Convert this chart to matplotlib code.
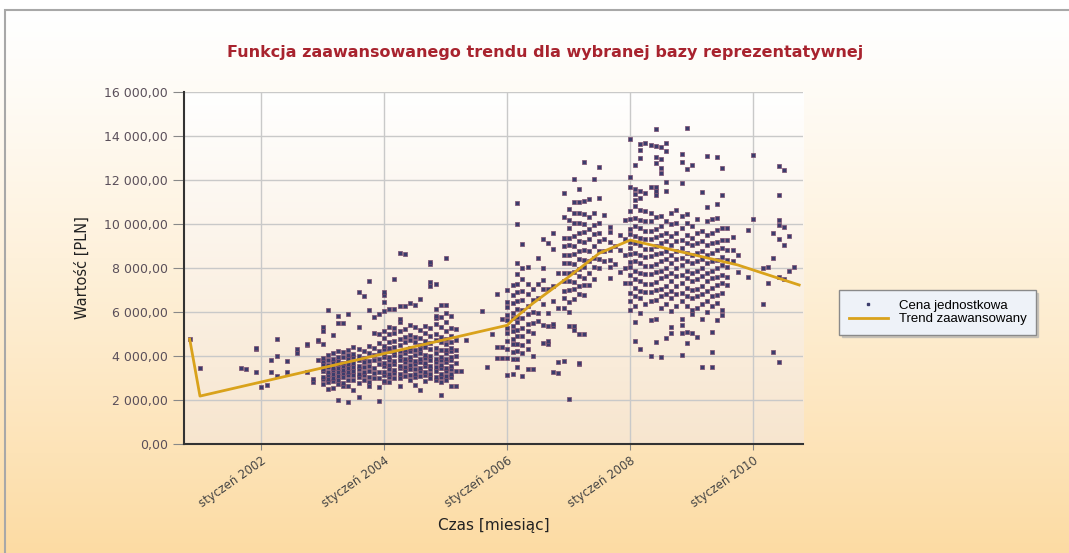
import matplotlib.pyplot as plt
import numpy as np
from datetime import datetime
from matplotlib.lines import Line2D
from matplotlib.patches import Rectangle

# Cena jednostkowa, tys. PLN, per year: {month: [values]}
prices_2000 = {11: [4.77]}
prices_2001 = {1: [3.44], 9: [3.47], 10: [3.41], 12: [4.3, 4.35, 3.29]}
prices_2002 = {1: [2.6], 2: [2.7], 3: [3.82, 3.29], 4: [4.76, 4.0, 3.09],
               6: [3.79, 3.29], 8: [4.3, 4.15], 10: [4.5, 3.29, 4.53],
               11: [2.8, 2.95], 12: [4.7, 3.82, 4.73]}
prices_2003 = {
    1: [2.72, 2.95, 3.05, 3.32, 3.41, 3.66, 3.78, 3.92, 4.53, 5.15, 5.3],
    2: [2.5, 2.83, 2.97, 3.16, 3.27, 3.52, 3.58, 3.84, 4.05, 6.1],
    3: [2.55, 2.86, 3.02, 3.18, 3.37, 3.46, 3.71, 3.88, 4.12, 4.96],
    4: [1.98, 2.74, 2.93, 3.08, 3.26, 3.44, 3.63, 3.76, 3.97, 4.24, 5.48, 5.83],
    5: [2.62, 2.77, 3.03, 3.22, 3.36, 3.55, 3.69, 3.95, 4.18, 5.48],
    6: [1.89, 2.66, 2.92, 3.14, 3.29, 3.47, 3.62, 3.86, 4.03, 4.27, 5.9],
    7: [2.44, 2.91, 3.13, 3.34, 3.52, 3.68, 3.94, 4.08, 4.41],
    8: [2.14, 2.79, 3.04, 3.17, 3.42, 3.57, 3.83, 4.02, 4.33, 5.3, 6.9],
    9: [2.93, 3.12, 3.28, 3.49, 3.74, 3.91, 4.22, 6.72],
    10: [2.63, 2.82, 3.06, 3.31, 3.54, 3.79, 4.14, 4.47, 6.1, 7.39],
    11: [3.02, 3.24, 3.46, 3.81, 4.03, 4.38, 5.04, 5.76],
    12: [1.94, 2.61, 2.98, 3.27, 3.63, 3.88, 4.23, 4.58, 5.02, 5.9],
}
prices_2004 = {
    1: [2.8, 2.85, 3.12, 3.28, 3.53, 3.67, 3.94, 4.08, 4.33, 4.47, 4.82, 5.14, 6.06, 6.47, 6.78, 6.9],
    2: [2.8, 3.04, 3.17, 3.43, 3.58, 3.82, 3.97, 4.22, 4.38, 4.64, 4.98, 5.33, 6.14],
    3: [2.98, 3.23, 3.37, 3.62, 3.77, 4.04, 4.18, 4.43, 4.68, 5.03, 5.28, 6.14, 7.5],
    4: [2.63, 3.02, 3.18, 3.44, 3.57, 3.83, 3.98, 4.24, 4.52, 4.78, 5.12, 5.53, 5.68, 6.29, 8.7],
    5: [3.08, 3.34, 3.48, 3.73, 3.87, 4.13, 4.28, 4.62, 4.87, 5.23, 6.29, 8.63],
    6: [2.92, 3.16, 3.42, 3.58, 3.84, 3.97, 4.23, 4.38, 4.72, 4.97, 5.43, 6.4],
    7: [2.67, 3.03, 3.19, 3.43, 3.62, 3.78, 4.04, 4.27, 4.63, 4.88, 5.32, 6.32],
    8: [2.44, 3.08, 3.32, 3.47, 3.73, 3.88, 4.12, 4.34, 4.48, 4.83, 5.18, 6.6],
    9: [2.88, 3.14, 3.28, 3.53, 3.68, 3.93, 4.07, 4.42, 4.68, 5.04, 5.38],
    10: [3.02, 3.18, 3.43, 3.57, 3.84, 3.98, 4.32, 4.58, 4.92, 5.27, 7.2, 7.36, 8.2, 8.27],
    11: [2.91, 3.07, 3.33, 3.48, 3.74, 3.88, 4.13, 4.37, 4.72, 5.02, 5.47, 5.71, 5.83, 6.14, 7.27],
    12: [2.24, 2.82, 3.03, 3.17, 3.44, 3.58, 3.83, 3.97, 4.28, 4.63, 4.87, 5.31, 5.76, 6.34],
}
prices_2005 = {
    1: [2.93, 3.08, 3.32, 3.47, 3.72, 3.88, 4.13, 4.27, 4.53, 4.78, 5.12, 5.53, 5.95, 6.33, 8.46],
    2: [2.63, 3.03, 3.18, 3.42, 3.57, 3.83, 3.97, 4.23, 4.38, 4.63, 4.92, 5.27, 5.8],
    3: [2.66, 3.31, 3.68, 4.02, 4.28, 4.73, 5.24],
    4: [3.33], 5: [4.73], 8: [6.06], 9: [3.5], 10: [4.98],
    11: [3.89, 4.41, 6.82], 12: [3.93, 4.41, 5.67],
}
prices_2006 = {
    1: [3.12, 3.92, 4.33, 4.68, 5.03, 5.27, 5.62, 5.88, 6.23, 6.47, 7.02],
    2: [3.17, 3.85, 4.18, 4.53, 4.77, 5.12, 5.38, 5.73, 5.97, 6.42, 6.78, 7.22],
    3: [3.5, 3.85, 4.23, 4.57, 4.92, 5.18, 5.53, 5.77, 6.13, 6.48, 6.92, 7.28, 7.73, 8.24, 10.0, 10.97],
    4: [3.09, 4.15, 4.48, 4.93, 5.28, 5.72, 6.08, 6.53, 6.97, 7.48, 8.02, 9.08],
    5: [3.4, 4.32, 4.68, 5.13, 5.47, 5.92, 6.28, 6.83, 7.27, 8.03],
    6: [3.4, 4.0, 5.03, 5.48, 6.02, 6.57, 7.04],
    7: [5.6, 5.97, 6.62, 7.28, 8.47],
    8: [4.6, 5.42, 6.38, 7.03, 7.47, 8.02, 9.33],
    9: [4.53, 4.68, 5.36, 5.97, 7.03, 9.15],
    10: [3.26, 5.36, 5.44, 6.5, 7.18, 8.85, 9.6],
    11: [3.24, 3.74, 6.2, 7.79],
    12: [3.77, 6.18, 6.63, 6.97, 7.42, 7.78, 8.23, 8.57, 9.02, 9.38, 10.33, 11.42],
}
prices_2007 = {
    1: [2.03, 5.36, 6.02, 6.47, 6.98, 7.43, 7.77, 8.22, 8.58, 9.03, 9.37, 9.83, 10.18, 10.67],
    2: [5.2, 5.36, 6.58, 7.03, 7.38, 7.82, 8.17, 8.63, 8.98, 9.47, 10.03, 10.48, 11.02, 12.03],
    3: [3.66, 3.7, 4.98, 6.83, 7.18, 7.63, 7.97, 8.42, 8.78, 9.23, 9.57, 10.03, 10.52, 10.98, 11.6],
    4: [4.98, 6.78, 7.23, 7.57, 8.03, 8.38, 8.82, 9.17, 9.63, 9.98, 10.47, 11.03, 12.8],
    5: [7.22, 7.78, 8.33, 8.77, 9.32, 9.78, 10.33, 11.12],
    6: [7.48, 8.03, 8.47, 9.02, 9.53, 9.97, 10.52, 12.06],
    7: [7.98, 8.42, 8.77, 9.23, 9.58, 10.03, 11.2, 12.6],
    8: [8.32, 8.78, 9.33, 10.4],
    9: [7.56, 8.03, 8.38, 8.82, 9.18, 9.62, 9.88],
    10: [8.2, 9.0], 11: [7.8, 8.8, 9.5],
    12: [7.3, 8.0, 8.6, 9.3, 10.2],
}
prices_2008 = {
    1: [6.1, 6.52, 6.88, 7.33, 7.68, 8.03, 8.27, 8.62, 8.93, 9.18, 9.53, 9.77, 10.23, 10.58, 11.7, 12.15, 13.85],
    2: [4.7, 5.56, 6.28, 6.73, 7.08, 7.52, 7.87, 8.33, 8.68, 9.13, 9.47, 9.92, 10.28, 10.82, 11.1, 11.36, 11.58, 12.68],
    3: [4.3, 5.97, 6.62, 6.97, 7.43, 7.78, 8.22, 8.57, 9.03, 9.38, 9.82, 10.17, 10.63, 11.2, 11.5, 12.98, 13.36, 13.64],
    4: [6.38, 6.93, 7.27, 7.73, 8.07, 8.52, 8.88, 9.33, 9.68, 10.13, 10.57, 11.4, 13.7],
    5: [4.0, 5.64, 6.48, 6.93, 7.28, 7.72, 8.08, 8.53, 8.87, 9.32, 9.67, 10.12, 10.48, 11.7, 13.6],
    6: [4.65, 5.67, 6.57, 7.02, 7.38, 7.83, 8.17, 8.62, 8.98, 9.43, 9.77, 10.32, 11.3, 11.5, 11.7, 12.76, 13.06, 13.55, 14.3],
    7: [3.94, 6.2, 6.72, 7.07, 7.53, 7.88, 8.32, 8.67, 9.13, 9.48, 9.92, 10.37, 12.3, 12.53, 12.94, 13.48],
    8: [4.8, 6.38, 6.83, 7.17, 7.62, 7.98, 8.43, 8.77, 9.22, 9.58, 10.13, 11.5, 11.9, 13.3, 13.67],
    9: [5.03, 5.33, 6.06, 6.63, 6.97, 7.42, 7.77, 8.23, 8.58, 9.03, 9.47, 10.02, 10.48],
    10: [6.28, 6.82, 7.17, 7.63, 7.98, 8.42, 8.77, 9.23, 9.58, 10.03, 10.62],
    11: [4.05, 5.03, 5.4, 5.67, 6.52, 6.87, 7.33, 7.68, 8.13, 8.47, 8.92, 9.27, 9.83, 10.38, 11.85, 12.8, 13.17],
    12: [4.58, 5.1, 6.27, 6.73, 7.08, 7.53, 7.87, 8.32, 8.68, 9.13, 9.48, 10.03, 10.47, 12.48, 14.35],
}
prices_2009 = {
    1: [5.03, 5.9, 6.1, 6.62, 6.98, 7.43, 7.77, 8.22, 8.57, 9.03, 9.38, 9.92, 12.7],
    2: [4.85, 6.18, 6.72, 7.07, 7.52, 7.88, 8.33, 8.67, 9.12, 9.58, 10.22],
    3: [3.52, 5.67, 6.38, 6.83, 7.17, 7.62, 7.98, 8.43, 8.77, 9.22, 9.68, 11.47],
    4: [5.98, 6.52, 6.97, 7.43, 7.78, 8.23, 8.57, 9.03, 9.48, 10.12, 10.78, 13.1],
    5: [3.52, 4.2, 5.08, 6.28, 6.73, 7.08, 7.53, 7.87, 8.32, 8.68, 9.13, 9.57, 10.22],
    6: [5.64, 6.42, 6.77, 7.23, 7.58, 8.02, 8.37, 8.83, 9.18, 9.72, 10.27, 10.92, 13.06],
    7: [5.86, 6.1, 6.88, 7.32, 7.67, 8.13, 8.48, 8.92, 9.27, 9.83, 11.32, 12.56],
    8: [7.22, 7.58, 8.03, 8.38, 8.82, 9.28, 9.83],
    9: [8.3, 8.8, 9.4], 10: [7.8, 8.6], 12: [7.6, 9.73],
}
prices_2010 = {
    1: [10.23, 13.14], 3: [6.36, 7.98], 4: [7.33, 8.06], 5: [4.2, 8.44, 9.6],
    6: [3.71, 7.6, 9.3, 9.95, 10.2, 11.32, 12.64], 7: [7.48, 9.04, 9.85, 12.45],
    8: [7.86, 9.45], 9: [8.06],
}

# Trend zaawansowany (PLN)
trend_months = [(2000, 11), (2001, 1), (2006, 1), (2006, 2), (2006, 6), (2007, 1),
                (2007, 7), (2008, 1), (2009, 10), (2010, 10)]
trend_values = [4770, 2180, 5400, 5640, 6390, 7600, 8670, 9270, 8140, 7230]

tick_years = [2002, 2004, 2006, 2008, 2010]

all_years = {2000: prices_2000, 2001: prices_2001, 2002: prices_2002, 2003: prices_2003,
             2004: prices_2004, 2005: prices_2005, 2006: prices_2006, 2007: prices_2007,
             2008: prices_2008, 2009: prices_2009, 2010: prices_2010}
pt_dates, pt_vals = [], []
for yr, months in all_years.items():
    for m, vals in months.items():
        for v in vals:
            pt_dates.append(datetime(yr, m, 1))
            pt_vals.append(v * 1000)
trend_dates = [datetime(y, m, 1) for y, m in trend_months]

fig = plt.figure(figsize=(10.69, 5.53), dpi=100)

# figure background gradient + frame
bg = fig.add_axes([0, 0, 1, 1], zorder=-10)
grad = np.linspace(0, 1, 256).reshape(-1, 1)
top_c = np.array([1.0, 1.0, 1.0])
bot_c = np.array([0.99, 0.86, 0.64])
img = top_c + (bot_c - top_c) * grad[..., None] ** 1.2
bg.imshow(img, aspect='auto', extent=[0, 1, 0, 0.982], origin='upper')
bg.add_patch(Rectangle((0.005, -0.01), 1.0, 0.992, fill=False, edgecolor='#a8a8a8', lw=1.5))
bg.set_xlim(0, 1)
bg.set_ylim(0, 1)
bg.axis('off')

ax = fig.add_axes([0.1721, 0.197, 0.5791, 0.6366])
ax.set_facecolor('none')
pgrad = np.array([1.0, 1.0, 1.0]) + (np.array([0.97, 0.90, 0.81]) - 1.0) * grad[..., None]
ax.imshow(pgrad, aspect='auto', extent=[0, 1, 0, 1], transform=ax.transAxes,
          origin='upper', zorder=0)

ax.scatter(pt_dates, pt_vals, marker='s', s=9, color='#3b3c6c', edgecolors='#7d4f70',
           linewidths=0.5, zorder=3)
ax.plot(trend_dates, trend_values, color='#d9a21b', lw=2, zorder=4)

ax.set_xlim(datetime(2000, 9, 28), datetime(2010, 10, 24))
ax.set_ylim(0, 16000)
ax.set_yticks(np.arange(0, 16001, 2000))
ax.set_yticklabels([f"{v:,.2f}".replace(',', ' ').replace('.', ',') for v in np.arange(0, 16001, 2000)])
ax.set_xticks([datetime(y, 1, 1) for y in tick_years])
ax.set_xticklabels([f"styczeń {y}" for y in tick_years], rotation=35, ha='right',
                   rotation_mode='anchor', fontsize=8.5, color='#444444')
ax.tick_params(axis='y', labelsize=9, colors='#5a4f5a', length=8, color='#888888')
ax.tick_params(axis='x', length=4, color='#888888', pad=3)
ax.grid(True, color='#c9c9c9', lw=1, zorder=1)
ax.set_axisbelow(True)
for s in ['top', 'right']:
    ax.spines[s].set_visible(False)
for s in ['left', 'bottom']:
    ax.spines[s].set_color('#333333')
    ax.spines[s].set_linewidth(1.5)

ax.set_ylabel('Wartość [PLN]', fontsize=10.5, color='#222222', labelpad=10)
ax.set_xlabel('Czas [miesiąc]', fontsize=11, color='#222222', labelpad=6)

fig.text(0.51, 0.905, 'Funkcja zaawansowanego trendu dla wybranej bazy reprezentatywnej',
         ha='center', va='center', fontsize=11.5, fontweight='bold', color='#a8232e',
         family=['Liberation Sans Narrow', 'DejaVu Sans'])

handles = [Line2D([], [], marker='s', ls='none', ms=2, color='#3b3c6c'),
           Line2D([], [], color='#d9a21b', lw=2)]
leg = fig.legend(handles, ['Cena jednostkowa', 'Trend zaawansowany'],
                 loc='center left', bbox_to_anchor=(0.779, 0.435), fontsize=9,
                 frameon=True, fancybox=False,
                 shadow={'color': '#b0b0b0', 'alpha': 0.6, 'ox': 2, 'oy': -2},
                 borderpad=0.7, handlelength=3.0, labelspacing=0.1,
                 prop={'family': 'Liberation Sans', 'size': 9.5})
leg.get_frame().set_facecolor('#eef2f8')
leg.get_frame().set_edgecolor('#8a8a8a')

fig.savefig('out.png', dpi=100)
